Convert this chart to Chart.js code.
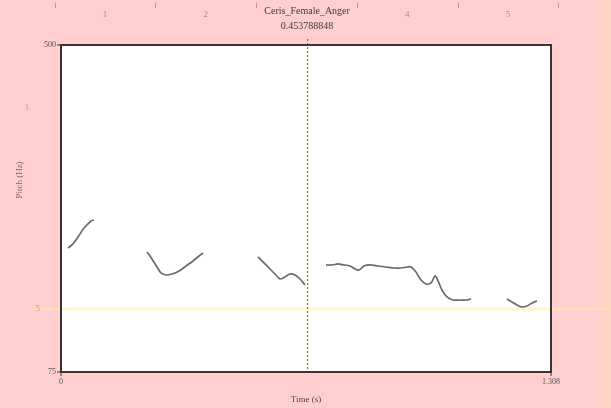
<!DOCTYPE html>
<html>
<head>
<meta charset="utf-8">
<script src="https://cdn.jsdelivr.net/npm/chart.js@4/dist/chart.umd.min.js"></script>
<style>
html,body{margin:0;padding:0;background:#ffcfcf;}
canvas{display:block;}
</style>
</head>
<body>
<canvas id="c" width="611" height="408"></canvas>
<script>
// ---- data ----
const titleText = "Ceris_Female_Anger";
const cursorLabel = "0.453788848";
const xAxisTitle = "Time (s)";
const yAxisTitle = "Pitch (Hz)";
const xTickValues = [0, 1.308];
const xTickLabels = ["0", "1.308"];
const yTickValues = [75, 500];
const yTickLabels = ["75", "500"];
const rulerLabels = ["1", "2", "3", "4", "5"];
const rulerValues = [1, 2, 3, 4, 5];
const rulerMinorValues = [0.5, 1.5, 2.5, 3.5, 4.5, 5.5];
const cursorTime = 0.657;
const markerPitch = 157;

const seg1Times = [0.0187, 0.0294, 0.0400, 0.0507, 0.0614, 0.0721, 0.0801, 0.0881];
const seg1Pitch = [236.2, 240.1, 246.6, 254.4, 262.2, 267.4, 271.3, 272.6];

const seg2Times = [0.2296, 0.2429, 0.2563, 0.2669, 0.2803, 0.2963, 0.3150, 0.3337, 0.3524, 0.3684, 0.3791];
const seg2Pitch = [231.0, 221.9, 211.5, 203.7, 201.1, 202.4, 206.3, 212.8, 219.3, 225.8, 229.7];

const seg3Times = [0.5259, 0.5419, 0.5579, 0.5739, 0.5846, 0.5979, 0.6113, 0.6246, 0.6380, 0.6513];
const seg3Pitch = [224.5, 216.7, 208.9, 201.1, 195.9, 198.5, 202.4, 201.1, 195.9, 188.1];

const seg4Times = [0.7074, 0.7234, 0.7394, 0.7554, 0.7715, 0.7848, 0.7955, 0.8088, 0.8248, 0.8462, 0.8676, 0.8889, 0.9076, 0.9236, 0.9343, 0.9476, 0.9610, 0.9743, 0.9877, 0.9984, 1.0064, 1.0170, 1.0304, 1.0464, 1.0651, 1.0811, 1.0945];
const seg4Pitch = [214.1, 214.1, 215.4, 214.1, 212.8, 208.9, 207.6, 212.8, 214.1, 212.8, 211.5, 210.2, 210.2, 211.5, 211.5, 205.0, 194.6, 189.4, 190.7, 199.8, 193.3, 181.6, 172.5, 168.6, 168.6, 168.6, 169.9];

const seg5Times = [1.1905, 1.2039, 1.2172, 1.2306, 1.2439, 1.2573, 1.2706];
const seg5Pitch = [169.9, 166.0, 162.1, 159.5, 160.8, 164.7, 167.3];

const segments = [
  [seg1Times, seg1Pitch],
  [seg2Times, seg2Pitch],
  [seg3Times, seg3Pitch],
  [seg4Times, seg4Pitch],
  [seg5Times, seg5Pitch]
];

const datasets = segments.map(([t, p]) => ({
  data: t.map((v, i) => ({ x: v, y: p[i] })),
  borderColor: '#6a6a6a',
  borderWidth: 1.7,
  pointRadius: 0,
  tension: 0.35,
  fill: false
}));

const SERIF = '"Liberation Serif", "DejaVu Serif", serif';

const praatPlugin = {
  id: 'praat',
  beforeDraw(chart) {
    const { ctx, width, height, chartArea: a } = chart;
    ctx.save();
    ctx.fillStyle = '#ffcfcf';
    ctx.fillRect(0, 0, width, height);
    const g = ctx.createLinearGradient(585, 0, 611, 0);
    g.addColorStop(0, 'rgba(255,207,207,0)');
    g.addColorStop(1, 'rgba(255,214,196,1)');
    ctx.fillStyle = g;
    ctx.fillRect(585, 0, 26, height);
    ctx.fillStyle = '#ffffff';
    ctx.fillRect(a.left, a.top, a.right - a.left, a.bottom - a.top);
    ctx.restore();
  },
  beforeDatasetsDraw(chart) {
    const { ctx, chartArea: a, scales } = chart;
    const y = scales.y.getPixelForValue(markerPitch);
    ctx.save();
    ctx.strokeStyle = 'rgba(255,247,200,0.95)';
    ctx.lineWidth = 3;
    ctx.beginPath();
    ctx.moveTo(a.left, y);
    ctx.lineTo(a.right, y);
    ctx.stroke();
    ctx.strokeStyle = 'rgba(255,225,175,0.7)';
    ctx.beginPath();
    ctx.moveTo(30, y);
    ctx.lineTo(a.left, y);
    ctx.moveTo(a.right, y);
    ctx.lineTo(chart.width, y);
    ctx.stroke();
    // cursor
    const x = scales.x.getPixelForValue(cursorTime);
    ctx.strokeStyle = '#7a7a36';
    ctx.lineWidth = 1.2;
    ctx.setLineDash([2, 2]);
    ctx.beginPath();
    ctx.moveTo(x + 0.5, a.top - 6);
    ctx.lineTo(x + 0.5, a.bottom);
    ctx.stroke();
    ctx.restore();
  },
  afterDraw(chart) {
    const { ctx, chartArea: a, scales } = chart;
    ctx.save();
    // frame
    ctx.strokeStyle = '#3a3434';
    ctx.lineWidth = 2;
    ctx.strokeRect(a.left, a.top, a.right - a.left, a.bottom - a.top);

    // title
    ctx.fillStyle = '#3c3c3c';
    ctx.font = '10px ' + SERIF;
    ctx.textAlign = 'center';
    ctx.textBaseline = 'middle';
    const cx = scales.x.getPixelForValue(cursorTime);
    ctx.fillText(titleText, cx, 11);
    ctx.fillText(cursorLabel, cx, 26);

    // ruler
    const r = scales.ruler;
    ctx.fillStyle = '#c97a7a';
    ctx.strokeStyle = '#d38f8f';
    ctx.lineWidth = 1;
    ctx.font = '9px ' + SERIF;
    rulerValues.forEach((v, i) => {
      const px = r.getPixelForValue(v);
      if (Math.abs(px - cx) > 30) ctx.fillText(rulerLabels[i], px, 15);
    });
    rulerMinorValues.forEach(v => {
      const px = Math.round(r.getPixelForValue(v)) + 0.5;
      ctx.beginPath();
      ctx.moveTo(px, 3);
      ctx.lineTo(px, 8);
      ctx.stroke();
    });

    // y ticks
    ctx.fillStyle = '#555';
    ctx.font = '8px ' + SERIF;
    ctx.textAlign = 'right';
    yTickValues.forEach((v, i) => {
      const py = scales.y.getPixelForValue(v);
      ctx.fillText(yTickLabels[i], a.left - 5, py);
      ctx.strokeStyle = '#3a3434';
      ctx.beginPath();
      ctx.moveTo(a.left - 4, py);
      ctx.lineTo(a.left, py);
      ctx.stroke();
    });
    // x ticks
    ctx.textAlign = 'center';
    ctx.textBaseline = 'top';
    xTickValues.forEach((v, i) => {
      const px = scales.x.getPixelForValue(v);
      ctx.fillText(xTickLabels[i], px, a.bottom + 6);
      ctx.beginPath();
      ctx.moveTo(px, a.bottom);
      ctx.lineTo(px, a.bottom + 4);
      ctx.stroke();
    });
    // axis titles
    ctx.fillStyle = '#4a4a4a';
    ctx.font = '9px ' + SERIF;
    ctx.textBaseline = 'middle';
    ctx.fillText(xAxisTitle, (a.left + a.right) / 2, a.bottom + 28);
    ctx.save();
    ctx.translate(20, 180);
    ctx.rotate(-Math.PI / 2);
    ctx.fillStyle = '#7a6464';
    ctx.fillText(yAxisTitle, 0, 0);
    ctx.restore();

    // faint left ruler marks
    ctx.fillStyle = '#d49090';
    ctx.font = '8px ' + SERIF;
    ctx.fillText('1', 27, 108);
    ctx.fillStyle = '#e0956a';
    ctx.fillText('5', 38, scales.y.getPixelForValue(markerPitch));
    ctx.restore();
  }
};

new Chart(document.getElementById('c'), {
  type: 'line',
  data: { datasets },
  options: {
    responsive: false,
    devicePixelRatio: 1,
    animation: false,
    layout: { padding: { left: 61, right: 60, top: 45, bottom: 36 } },
    plugins: { legend: { display: false }, tooltip: { enabled: false } },
    scales: {
      x: { type: 'linear', min: 0, max: 1.308, display: false },
      y: { type: 'linear', min: 75, max: 500, display: false },
      ruler: { type: 'linear', axis: 'x', position: 'top', min: 0.563, max: 5.426, display: false }
    }
  },
  plugins: [praatPlugin]
});
</script>
</body>
</html>
